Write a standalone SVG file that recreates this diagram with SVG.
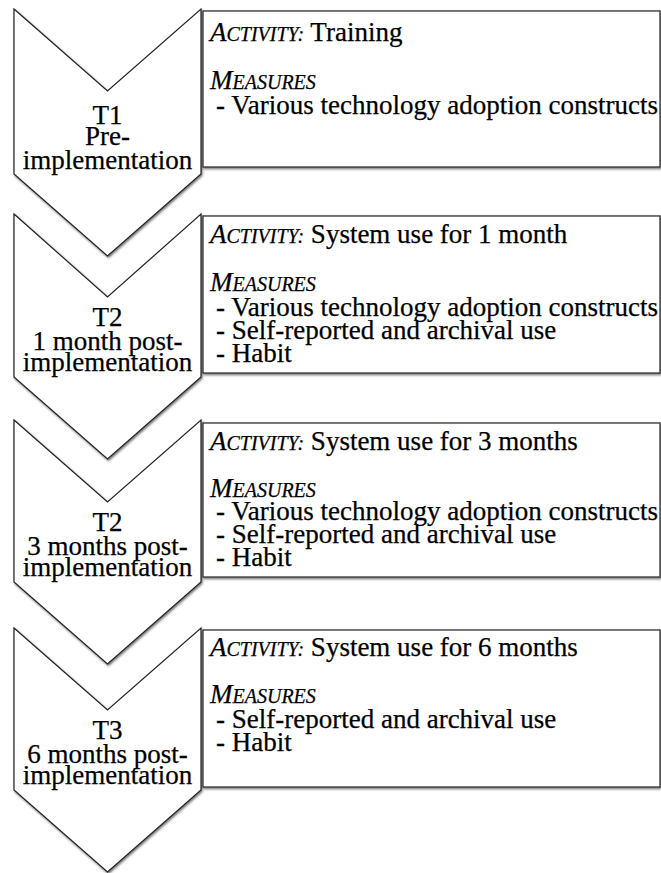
<svg xmlns="http://www.w3.org/2000/svg" width="661" height="873" viewBox="0 0 661 873">
  <defs>
    <filter id="shade" x="-5%" y="-5%" width="112%" height="115%">
      <feDropShadow dx="1" dy="1.5" stdDeviation="0.8" flood-color="#000" flood-opacity="0.55"/>
    </filter>
  </defs>
  <style>
    .chev { fill: #fff; stroke: #222; stroke-width: 1.2; stroke-linejoin: miter; filter: url(#shade); }
    .box { fill: #fff; stroke: #333; stroke-width: 1.3; filter: url(#shade); }
    text { font-family: "Liberation Serif", "Times New Roman", serif; font-size: 27px; fill: #000; stroke: #000; stroke-width: 0.25; }
    .lbl { text-anchor: middle; }
    .hd { font-style: italic; }
    .sc { font-size: 20px; }
  </style>

  <!-- stage 1 -->
  <g id="t1">
    <polygon class="chev" points="14,9 107.5,91 201,9 201,174 107.5,256 14,174"/>
    <text class="lbl" x="107.5" y="124">T1</text>
    <text class="lbl" x="107.5" y="145">Pre-</text>
    <text class="lbl" x="107.5" y="169">implementation</text>
  </g>
  <g id="t1-box">
    <rect class="box" x="203" y="11" width="457" height="156"/>
    <text x="210" y="41"><tspan class="hd">A</tspan><tspan class="hd sc">CTIVITY:</tspan> Training</text>
    <text x="210" y="89"><tspan class="hd">M</tspan><tspan class="hd sc">EASURES</tspan></text>
    <text x="216" y="114">- Various technology adoption constructs</text>
  </g>

  <!-- stage 2 -->
  <g id="t2a">
    <polygon class="chev" points="14,214 107.5,297 201,214 201,377 107.5,459 14,377"/>
    <text class="lbl" x="107.5" y="326">T2</text>
    <text class="lbl" x="107.5" y="350">1 month post-</text>
    <text class="lbl" x="107.5" y="371">implementation</text>
  </g>
  <g id="t2a-box">
    <rect class="box" x="203" y="216" width="457" height="157"/>
    <text x="210" y="243"><tspan class="hd">A</tspan><tspan class="hd sc">CTIVITY:</tspan> System use for 1 month</text>
    <text x="210" y="291"><tspan class="hd">M</tspan><tspan class="hd sc">EASURES</tspan></text>
    <text x="216" y="316">- Various technology adoption constructs</text>
    <text x="216" y="339">- Self-reported and archival use</text>
    <text x="216" y="362">- Habit</text>
  </g>

  <!-- stage 3 -->
  <g id="t2b">
    <polygon class="chev" points="14,420 107.5,502 201,420 201,582 107.5,664 14,582"/>
    <text class="lbl" x="107.5" y="531">T2</text>
    <text class="lbl" x="107.5" y="555">3 months post-</text>
    <text class="lbl" x="107.5" y="576">implementation</text>
  </g>
  <g id="t2b-box">
    <rect class="box" x="203" y="423" width="457" height="154"/>
    <text x="210" y="450"><tspan class="hd">A</tspan><tspan class="hd sc">CTIVITY:</tspan> System use for 3 months</text>
    <text x="210" y="497"><tspan class="hd">M</tspan><tspan class="hd sc">EASURES</tspan></text>
    <text x="216" y="520">- Various technology adoption constructs</text>
    <text x="216" y="543">- Self-reported and archival use</text>
    <text x="216" y="566">- Habit</text>
  </g>

  <!-- stage 4 -->
  <g id="t3">
    <polygon class="chev" points="14,628 107.5,710 201,628 201,790 107.5,872 14,790"/>
    <text class="lbl" x="107.5" y="739">T3</text>
    <text class="lbl" x="107.5" y="763">6 months post-</text>
    <text class="lbl" x="107.5" y="784">implementation</text>
  </g>
  <g id="t3-box">
    <rect class="box" x="203" y="630" width="457" height="157"/>
    <text x="210" y="656"><tspan class="hd">A</tspan><tspan class="hd sc">CTIVITY:</tspan> System use for 6 months</text>
    <text x="210" y="703"><tspan class="hd">M</tspan><tspan class="hd sc">EASURES</tspan></text>
    <text x="216" y="728">- Self-reported and archival use</text>
    <text x="216" y="751">- Habit</text>
  </g>

  <g id="connectors"></g>
</svg>
